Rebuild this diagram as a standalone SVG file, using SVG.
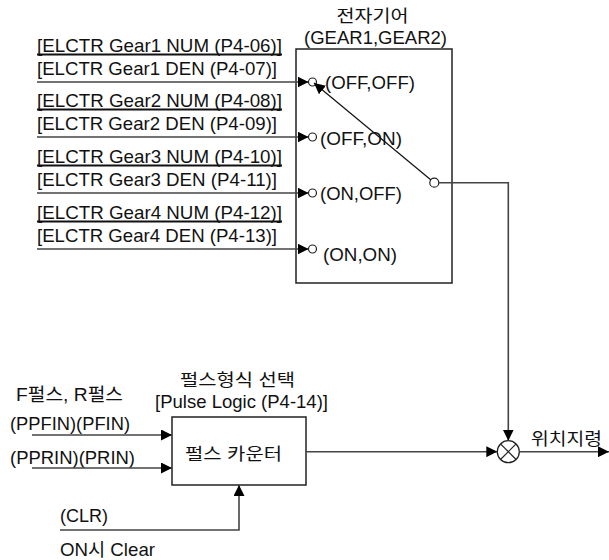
<svg xmlns="http://www.w3.org/2000/svg" width="609" height="560" viewBox="0 0 609 560">
<defs>
<style>
text{font-family:"Liberation Sans","Noto Sans CJK KR",sans-serif;font-size:18.5px;fill:#111}
text.ko{font-size:16.5px}
.ln{stroke:#444;stroke-width:1.6;fill:none}
.box{stroke:#222;stroke-width:1.5;fill:#fff}
.ul{stroke:#111;stroke-width:1.8}
.pin{stroke:#222;stroke-width:1.2;fill:#fff}
</style>
<marker id="ah" viewBox="0 0 10 10" refX="10" refY="5" markerWidth="11" markerHeight="11" markerUnits="userSpaceOnUse" orient="auto">
<path d="M0,0 L10,5 L0,10 Z" fill="#000"/>
</marker>
</defs>
<rect width="609" height="560" fill="#fff"/>

<g id="gear-box">
<rect class="box" x="296" y="49" width="156" height="234"/>
<text class="ko" x="372.5" y="22" text-anchor="middle" textLength="72" lengthAdjust="spacingAndGlyphs">전자기어</text>
<text x="304" y="44" textLength="143" lengthAdjust="spacingAndGlyphs">(GEAR1,GEAR2)</text>
<text x="325" y="89" textLength="90" lengthAdjust="spacingAndGlyphs">(OFF,OFF)</text>
<text x="320" y="145" textLength="82" lengthAdjust="spacingAndGlyphs">(OFF,ON)</text>
<text x="320" y="200" textLength="82" lengthAdjust="spacingAndGlyphs">(ON,OFF)</text>
<text x="323" y="261" textLength="74" lengthAdjust="spacingAndGlyphs">(ON,ON)</text>
<circle class="pin" cx="312.5" cy="82" r="4"/>
<circle class="pin" cx="312.5" cy="137" r="4"/>
<circle class="pin" cx="312.5" cy="193" r="4"/>
<circle class="pin" cx="312.5" cy="249" r="4"/>
<circle class="pin" cx="434.3" cy="182.7" r="4.5"/>
</g>

<g id="gear1-label">
<text x="37" y="52" textLength="245" lengthAdjust="spacingAndGlyphs">[ELCTR Gear1 NUM (P4-06)]</text>
<line class="ul" x1="37" y1="54.5" x2="282" y2="54.5"/>
<text x="37" y="75" textLength="240" lengthAdjust="spacingAndGlyphs">[ELCTR Gear1 DEN (P4-07)]</text>
</g>
<g id="gear2-label">
<text x="37" y="107" textLength="245" lengthAdjust="spacingAndGlyphs">[ELCTR Gear2 NUM (P4-08)]</text>
<line class="ul" x1="37" y1="109.5" x2="282" y2="109.5"/>
<text x="37" y="130" textLength="240" lengthAdjust="spacingAndGlyphs">[ELCTR Gear2 DEN (P4-09)]</text>
</g>
<g id="gear3-label">
<text x="37" y="163" textLength="245" lengthAdjust="spacingAndGlyphs">[ELCTR Gear3 NUM (P4-10)]</text>
<line class="ul" x1="37" y1="165.5" x2="282" y2="165.5"/>
<text x="37" y="186" textLength="240" lengthAdjust="spacingAndGlyphs">[ELCTR Gear3 DEN (P4-11)]</text>
</g>
<g id="gear4-label">
<text x="37" y="219" textLength="245" lengthAdjust="spacingAndGlyphs">[ELCTR Gear4 NUM (P4-12)]</text>
<line class="ul" x1="37" y1="221.5" x2="282" y2="221.5"/>
<text x="37" y="242" textLength="240" lengthAdjust="spacingAndGlyphs">[ELCTR Gear4 DEN (P4-13)]</text>
</g>

<g id="pulse-counter">
<rect class="box" x="172" y="417" width="134" height="68"/>
<text class="ko" x="185" y="460" textLength="97" lengthAdjust="spacingAndGlyphs">펄스 카운터</text>
<text class="ko" x="237.5" y="386" text-anchor="middle" textLength="115" lengthAdjust="spacingAndGlyphs">펄스형식 선택</text>
<text x="155" y="408" textLength="173" lengthAdjust="spacingAndGlyphs">[Pulse Logic (P4-14)]</text>
</g>

<g id="inputs">
<text x="16" y="401" textLength="107" lengthAdjust="spacingAndGlyphs">F펄스, R펄스</text>
<text x="10" y="430" textLength="120" lengthAdjust="spacingAndGlyphs">(PPFIN)(PFIN)</text>
<text x="10" y="464" textLength="125" lengthAdjust="spacingAndGlyphs">(PPRIN)(PRIN)</text>
<text x="60" y="522" textLength="48" lengthAdjust="spacingAndGlyphs">(CLR)</text>
<text x="60" y="556" textLength="95" lengthAdjust="spacingAndGlyphs">ON시 Clear</text>
</g>

<g id="sum">
<circle cx="508.3" cy="451.7" r="11" stroke="#222" stroke-width="1.3" fill="#fff"/>
<line x1="500.5" y1="443.9" x2="516.1" y2="459.5" stroke="#222" stroke-width="1.2"/>
<line x1="516.1" y1="443.9" x2="500.5" y2="459.5" stroke="#222" stroke-width="1.2"/>
<text class="ko" x="531" y="445" textLength="71" lengthAdjust="spacingAndGlyphs">위치지령</text>
</g>

<g id="connectors">
<line class="ln" x1="37" y1="82" x2="308.5" y2="82" marker-end="url(#ah)"/>
<line class="ln" x1="37" y1="137" x2="308.5" y2="137" marker-end="url(#ah)"/>
<line class="ln" x1="37" y1="193" x2="308.5" y2="193" marker-end="url(#ah)"/>
<line class="ln" x1="37" y1="249" x2="308.5" y2="249" marker-end="url(#ah)"/>
<line x1="431" y1="180" x2="314" y2="83" stroke="#111" stroke-width="1.2" marker-end="url(#ah)"/>
<polyline class="ln" points="438.8,182.7 508.3,182.7 508.3,440.7" marker-end="url(#ah)"/>
<line class="ln" x1="32" y1="435" x2="172" y2="435" marker-end="url(#ah)"/>
<line class="ln" x1="32" y1="468" x2="172" y2="468" marker-end="url(#ah)"/>
<polyline class="ln" points="60,530 239,530 239,485" marker-end="url(#ah)"/>
<line class="ln" x1="306" y1="451.7" x2="497.3" y2="451.7" marker-end="url(#ah)"/>
<line class="ln" x1="519.3" y1="451.7" x2="609" y2="451.7" marker-end="url(#ah)"/>
</g>
</svg>
